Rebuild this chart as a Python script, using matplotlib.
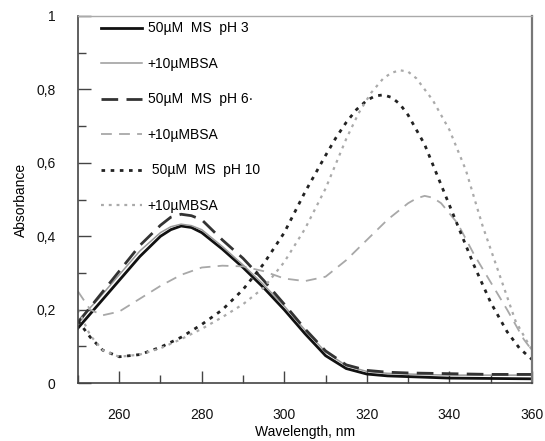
import matplotlib
matplotlib.use("Agg")
import matplotlib.pyplot as plt
from matplotlib.ticker import MultipleLocator, FuncFormatter

plt.rcParams["font.family"] = ["Liberation Sans", "DejaVu Sans"]

# wavelength grids (nm) and absorbance values
wl_a = [250, 255, 260, 265, 270, 272.5, 275, 277.5, 280, 285, 290, 295, 300, 305, 310, 315, 320, 325, 330, 340, 350, 360]
ph3 = [0.15, 0.215, 0.28, 0.345, 0.40, 0.418, 0.428, 0.424, 0.41, 0.365, 0.315, 0.26, 0.20, 0.135, 0.075, 0.04, 0.025, 0.02, 0.018, 0.014, 0.013, 0.012]
ph3_bsa = [0.17, 0.23, 0.295, 0.36, 0.41, 0.426, 0.433, 0.429, 0.418, 0.372, 0.322, 0.268, 0.21, 0.145, 0.085, 0.048, 0.032, 0.027, 0.025, 0.022, 0.022, 0.022]
ph6 = [0.165, 0.235, 0.305, 0.375, 0.43, 0.452, 0.46, 0.456, 0.445, 0.39, 0.34, 0.28, 0.215, 0.148, 0.088, 0.05, 0.035, 0.03, 0.028, 0.026, 0.024, 0.024]

wl_b = [250, 253, 256, 260, 265, 270, 275, 280, 285, 290, 295, 300, 305, 310, 315, 320, 325, 330,
        332, 334, 336, 338, 342, 346, 350, 354, 358, 360]
ph6_bsa = [0.25, 0.20, 0.185, 0.195, 0.23, 0.265, 0.295, 0.315, 0.32, 0.318, 0.305, 0.285, 0.278, 0.29, 0.335, 0.39, 0.445, 0.49,
           0.503, 0.51, 0.505, 0.49, 0.435, 0.35, 0.275, 0.20, 0.12, 0.09]

wl_c = [250, 253, 256, 260, 265, 270, 275, 280, 285, 290, 295, 300, 305, 310, 312.5, 315, 317.5, 320, 322, 324, 326, 328, 330,
        334, 338, 342, 346, 350, 354, 357, 360]
ph10 = [0.17, 0.125, 0.09, 0.072, 0.078, 0.098, 0.125, 0.16, 0.20, 0.255, 0.325, 0.41, 0.52, 0.62, 0.668, 0.71, 0.745, 0.77, 0.782, 0.785, 0.778, 0.76, 0.73,
        0.65, 0.54, 0.43, 0.32, 0.22, 0.14, 0.095, 0.065]

wl_d = [250, 253, 256, 260, 265, 270, 275, 280, 285, 290, 295, 300, 305, 310, 315, 318, 321, 324, 326, 328, 330, 332,
        336, 340, 344, 348, 352, 356, 360]
ph10_bsa = [0.20, 0.13, 0.09, 0.072, 0.078, 0.095, 0.12, 0.148, 0.18, 0.215, 0.26, 0.33, 0.42, 0.53, 0.665, 0.735, 0.79, 0.83, 0.845, 0.852, 0.848, 0.83,
            0.77, 0.69, 0.58, 0.43, 0.30, 0.17, 0.09]

labels = ["50µM  MS  pH 3", "+10µMBSA", "50µM  MS  pH 6·", "+10µMBSA", " 50µM  MS  pH 10", "+10µMBSA"]

fig = plt.figure(figsize=(5.45, 4.41), dpi=100)
ax = fig.add_axes([0.143, 0.131, 0.833, 0.833])

ax.plot(wl_a, ph3, color="#111111", lw=2.0, label=labels[0])
ax.plot(wl_a, ph3_bsa, color="#9a9a9a", lw=1.1, label=labels[1])
ax.plot(wl_a, ph6, color="#333333", lw=2.0, dashes=(6, 3), label=labels[2])
ax.plot(wl_b, ph6_bsa, color="#a8a8a8", lw=1.3, dashes=(6, 4), label=labels[3])
ax.plot(wl_c, ph10, color="#222222", lw=2.0, dashes=(1.3, 2.0), label=labels[4])
ax.plot(wl_d, ph10_bsa, color="#aaaaaa", lw=1.6, dashes=(1.3, 2.2), label=labels[5])

ax.set_xlim(250, 360)
ax.set_ylim(0, 1)
ax.xaxis.set_major_locator(MultipleLocator(20))
ax.xaxis.set_minor_locator(MultipleLocator(10))
ax.yaxis.set_major_locator(MultipleLocator(0.2))
ax.yaxis.set_minor_locator(MultipleLocator(0.1))
ax.yaxis.set_major_formatter(FuncFormatter(lambda v, p: f"{v:g}".replace(".", ",")))

ax.tick_params(which="both", direction="in", colors="#444444", labelcolor="#111111", labelsize=10)
ax.tick_params(which="major", length=9, width=1.0)
ax.tick_params(which="minor", length=6, width=1.0)
ax.tick_params(axis="x", pad=18)
ax.tick_params(axis="y", pad=16)

for side in ["left", "bottom"]:
    ax.spines[side].set_color("#444444")
    ax.spines[side].set_linewidth(1.2)
ax.spines["top"].set_color("#aaaaaa")
ax.spines["top"].set_linewidth(1.0)
ax.spines["right"].set_color("#777777")
ax.spines["right"].set_linewidth(1.6)

ax.set_xlabel("Wavelength, nm", fontsize=10, labelpad=2)
ax.set_ylabel("Absorbance", fontsize=10, labelpad=6)

ax.legend(loc="upper left", bbox_to_anchor=(0.05, 0.985), frameon=False, fontsize=10,
          handlelength=3.0, handletextpad=0.4, labelspacing=1.55, borderpad=0, borderaxespad=0)

fig.savefig("out.png", dpi=100)
